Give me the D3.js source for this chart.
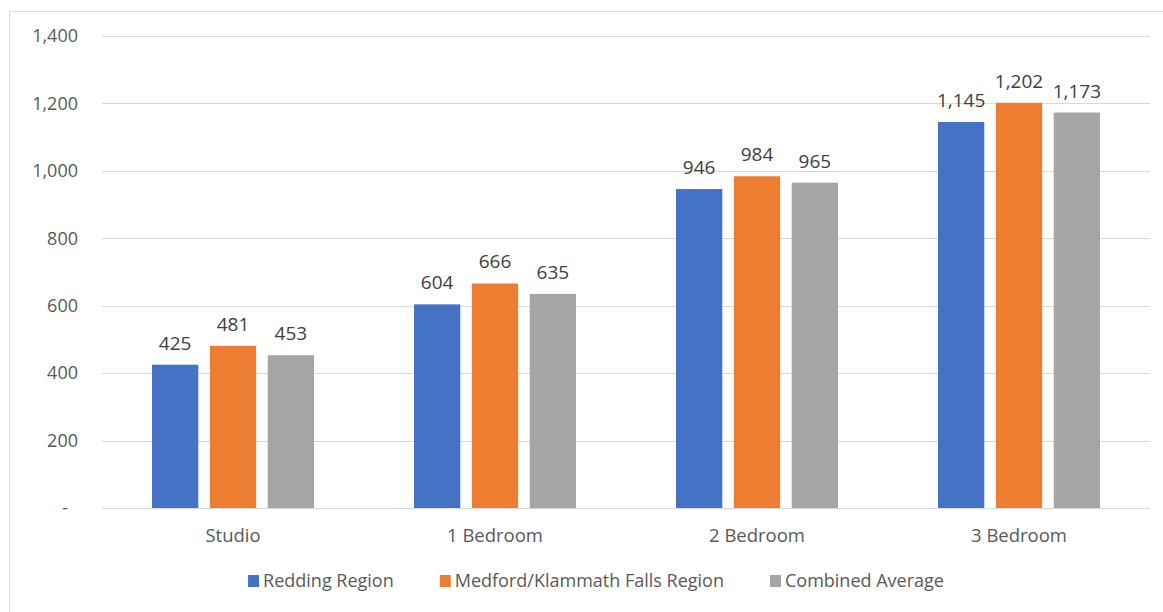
<!DOCTYPE html>
<html>
<head>
<meta charset="utf-8">
<script src="https://cdn.jsdelivr.net/npm/d3@7/dist/d3.min.js"></script>
<style>
  html, body { margin: 0; padding: 0; background: #fff; }
  svg text { font-family: "Open Sans", "Noto Sans", sans-serif; }
</style>
</head>
<body>
<svg id="chart" width="1163" height="612"></svg>
<script>
// Average monthly rent by unit size
const categories = ["Studio", "1 Bedroom", "2 Bedroom", "3 Bedroom"];
const seriesNames = ["Redding Region", "Medford/Klammath Falls Region", "Combined Average"];
const redding = [425, 604, 946, 1145];
const medford = [481, 666, 984, 1202];
const combined = [453, 635, 965, 1173];
const yTicks = [0, 200, 400, 600, 800, 1000, 1200, 1400];
const colors = ["#4472c4", "#ed7d31", "#a5a5a5"];

const seriesValues = [redding, medford, combined];

const svg = d3.select("#chart");
const W = 1163, H = 612;
const plot = { left: 102, right: 1150, top: 36, bottom: 508 };

// Outer frame (chart area border)
svg.append("rect")
  .attr("x", 9.5).attr("y", 11.5)
  .attr("width", W + 10).attr("height", H + 10)
  .attr("fill", "none").attr("stroke", "#d9d9d9").attr("stroke-width", 1);

const x0 = d3.scaleBand().domain(categories).range([plot.left, plot.right]).paddingInner(0).paddingOuter(0);
const x1 = d3.scaleBand().domain(seriesNames).range([50, 262 - 50]).paddingInner(0.2).paddingOuter(0);
const y = d3.scaleLinear().domain([0, 1400]).range([plot.bottom, plot.top]);

const fmt = d3.format(",");

// Gridlines
svg.append("g")
  .selectAll("line")
  .data(yTicks)
  .join("line")
  .attr("x1", plot.left).attr("x2", plot.right)
  .attr("y1", d => Math.round(y(d)) + 0.5).attr("y2", d => Math.round(y(d)) + 0.5)
  .attr("stroke", "#d9d9d9").attr("stroke-width", 1.2);

// Y axis labels
svg.append("g")
  .selectAll("text")
  .data(yTicks)
  .join("text")
  .attr("x", d => d === 0 ? 68 : 78)
  .attr("y", d => y(d))
  .attr("dy", "0.35em")
  .attr("text-anchor", "end")
  .attr("fill", "#595959")
  .attr("font-size", 18)
  .text(d => d === 0 ? "-" : fmt(d));

// Bars
const groups = svg.append("g")
  .selectAll("g")
  .data(categories)
  .join("g")
  .attr("transform", d => `translate(${x0(d)},0)`);

groups.selectAll("rect")
  .data((c, i) => seriesNames.map((s, k) => ({ s, v: seriesValues[k][i], k })))
  .join("rect")
  .attr("x", d => x1(d.s))
  .attr("width", x1.bandwidth())
  .attr("y", d => y(d.v))
  .attr("height", d => y(0) - y(d.v))
  .attr("fill", d => colors[d.k]);

// Value labels
groups.selectAll("text.val")
  .data((c, i) => seriesNames.map((s, k) => ({ s, v: seriesValues[k][i], k })))
  .join("text")
  .attr("class", "val")
  .attr("x", d => x1(d.s) + x1.bandwidth() / 2)
  .attr("y", d => y(d.v) - 15)
  .attr("text-anchor", "middle")
  .attr("fill", "#404040")
  .attr("font-size", 19)
  .text(d => fmt(d.v));

// Category labels
svg.append("g")
  .selectAll("text")
  .data(categories)
  .join("text")
  .attr("x", d => x0(d) + x0.bandwidth() / 2)
  .attr("y", 536)
  .attr("dy", "0.35em")
  .attr("text-anchor", "middle")
  .attr("fill", "#595959")
  .attr("font-size", 18.5)
  .text(d => d);

// Legend
const legend = svg.append("g");
const items = legend.selectAll("g")
  .data(seriesNames)
  .join("g");
items.append("rect")
  .attr("width", 11).attr("height", 12)
  .attr("y", -6)
  .attr("fill", (d, i) => colors[i]);
items.append("text")
  .attr("x", 15)
  .attr("dy", "0.35em")
  .attr("fill", "#595959")
  .attr("font-size", 18)
  .text(d => d);

let widths = [];
items.each(function () { widths.push(this.getBBox().width); });
const gap = 46;
const total = d3.sum(widths) + gap * (widths.length - 1);
let cx = 596 - total / 2;
items.each(function (d, i) {
  d3.select(this).attr("transform", `translate(${cx},581)`);
  cx += widths[i] + gap;
});
</script>
</body>
</html>
